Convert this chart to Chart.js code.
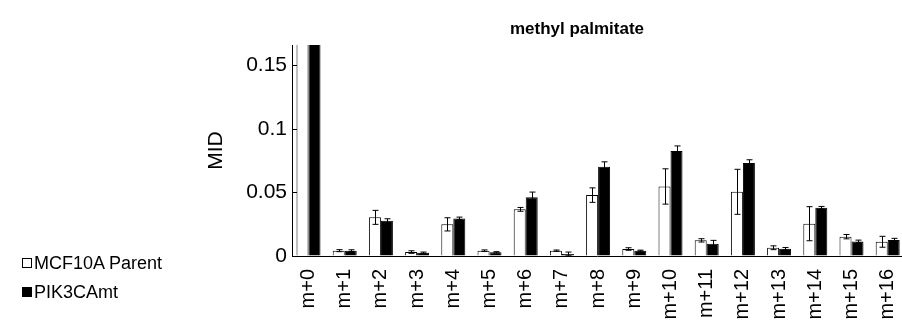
<!DOCTYPE html>
<html>
<head>
<meta charset="utf-8">
<script src="https://cdn.jsdelivr.net/npm/chart.js@4.4.1/dist/chart.umd.min.js"></script>
<style>
  html, body { margin: 0; padding: 0; background: #fff; overflow: hidden; }
  #wrap { position: relative; width: 902px; height: 323px; }
  #legend { position: absolute; left: 22px; top: 252px; font: 18px "Liberation Sans", Arial, sans-serif; color: #000; }
  .item { display: flex; align-items: center; height: 22px; margin-bottom: 7px; }
  .sq { width: 8px; height: 8px; border: 1.5px solid #000; margin-right: 2px; }
</style>
</head>
<body>
<div id="wrap">
  <canvas id="c" width="902" height="323"></canvas>
  <div id="legend"></div>
</div>
<script>
// données
const categories = ['m+0', 'm+1', 'm+2', 'm+3', 'm+4', 'm+5', 'm+6', 'm+7', 'm+8',
  'm+9', 'm+10', 'm+11', 'm+12', 'm+13', 'm+14', 'm+15', 'm+16'];
const parentVals = [0.60, 0.0042, 0.0304, 0.0031, 0.0249, 0.0042, 0.0367, 0.0042, 0.0479,
  0.0055, 0.0547, 0.0123, 0.0505, 0.0065, 0.0254, 0.0152, 0.0112];
const parentErr = [0.01, 0.0008, 0.0055, 0.001, 0.0052, 0.0006, 0.0015, 0.0005, 0.0057,
  0.001, 0.0139, 0.0013, 0.0177, 0.0015, 0.0134, 0.0017, 0.0043];
const pikVals = [0.55, 0.0042, 0.0278, 0.0026, 0.0296, 0.0029, 0.0463, 0.0016, 0.0702,
  0.0042, 0.0827, 0.0097, 0.0731, 0.0057, 0.0380, 0.0115, 0.0126];
const pikErr = [0.01, 0.0007, 0.0015, 0.0005, 0.001, 0.0005, 0.004, 0.0015, 0.0039,
  0.0004, 0.0039, 0.0026, 0.0026, 0.001, 0.001, 0.001, 0.0013];
const yTicks = [0, 0.05, 0.1, 0.15];
const series = [
  { nom: 'MCF10A Parent', vals: parentVals, err: parentErr, fond: '#ffffff' },
  { nom: 'PIK3CAmt', vals: pikVals, err: pikErr, fond: '#000000' }
];

Chart.defaults.font.family = '"Liberation Sans", Arial, Helvetica, sans-serif';
Chart.defaults.color = '#000';

// barres d'erreur
const errorBars = {
  id: 'errorBars',
  afterDatasetsDraw(chart) {
    const { ctx, chartArea, scales } = chart;
    ctx.save();
    ctx.beginPath();
    ctx.rect(chartArea.left, chartArea.top, chartArea.right - chartArea.left, chartArea.bottom - chartArea.top);
    ctx.clip();
    ctx.strokeStyle = '#000';
    ctx.lineWidth = 1;
    series.forEach((s, i) => {
      chart.getDatasetMeta(i).data.forEach((el, j) => {
        const x = Math.round(el.x) + 0.5;
        const top = scales.y.getPixelForValue(s.vals[j] + s.err[j]);
        const bot = scales.y.getPixelForValue(s.vals[j] - s.err[j]);
        ctx.beginPath();
        ctx.moveTo(x, top); ctx.lineTo(x, bot);
        ctx.moveTo(x - 3, top); ctx.lineTo(x + 3, top);
        ctx.moveTo(x - 3, bot); ctx.lineTo(x + 3, bot);
        ctx.stroke();
      });
    });
    ctx.restore();
  }
};

// petites graduations vers l'intérieur + titre
const decor = {
  id: 'decor',
  afterDraw(chart) {
    const { ctx, chartArea, scales } = chart;
    ctx.save();
    ctx.strokeStyle = '#000';
    ctx.lineWidth = 1;
    yTicks.forEach(v => {
      const y = Math.round(scales.y.getPixelForValue(v)) + 0.5;
      ctx.beginPath();
      ctx.moveTo(chartArea.left, y);
      ctx.lineTo(chartArea.left + 5, y);
      ctx.stroke();
    });
    ctx.fillStyle = '#000';
    ctx.font = 'bold 17px "Liberation Sans", Arial, sans-serif';
    ctx.textAlign = 'center';
    ctx.textBaseline = 'middle';
    ctx.fillText('methyl palmitate', 577, 29);
    ctx.restore();
  }
};

new Chart(document.getElementById('c'), {
  type: 'bar',
  data: {
    datasets: series.map(s => ({
      label: s.nom,
      data: s.vals.map((v, i) => ({ x: i, y: v })),
      backgroundColor: s.fond,
      borderColor: '#000',
      borderWidth: 1,
      categoryPercentage: 0.663,
      barPercentage: 1
    }))
  },
  options: {
    responsive: false,
    animation: false,
    layout: { padding: { left: 200, top: 45, right: 0, bottom: 0 } },
    plugins: { legend: { display: false }, tooltip: { enabled: false } },
    scales: {
      x: {
        type: 'linear',
        offset: false,
        min: -0.456,
        max: 16.395,
        afterBuildTicks: s => { s.ticks = categories.map((_, i) => ({ value: i })); },
        afterFit: s => { s.height = 67; s.paddingLeft = 0; s.paddingRight = 0; },
        grid: { offset: false, drawOnChartArea: false, drawTicks: false },
        border: { display: true, color: '#000', width: 1 },
        ticks: {
          font: { size: 20 },
          minRotation: 90,
          maxRotation: 90,
          autoSkip: false,
          padding: 13,
          callback: v => categories[v]
        }
      },
      y: {
        min: 0,
        max: 0.166,
        afterBuildTicks: s => { s.ticks = yTicks.map(v => ({ value: v })); },
        afterFit: s => { s.width = 92; s.paddingTop = 0; s.paddingBottom = 0; },
        grid: { drawOnChartArea: false, drawTicks: false },
        border: { display: true, color: '#000', width: 1 },
        ticks: { font: { size: 21 }, padding: 5, callback: v => String(v) },
        title: { display: true, text: 'MID', font: { size: 21 }, padding: { top: 4, bottom: 0 } }
      }
    }
  },
  plugins: [errorBars, decor]
});

// légende
const legende = document.getElementById('legend');
series.forEach(s => {
  const div = document.createElement('div');
  div.className = 'item';
  div.innerHTML = `<div class="sq" style="background:${s.fond}"></div><span>${s.nom}</span>`;
  legende.appendChild(div);
});
</script>
</body>
</html>
